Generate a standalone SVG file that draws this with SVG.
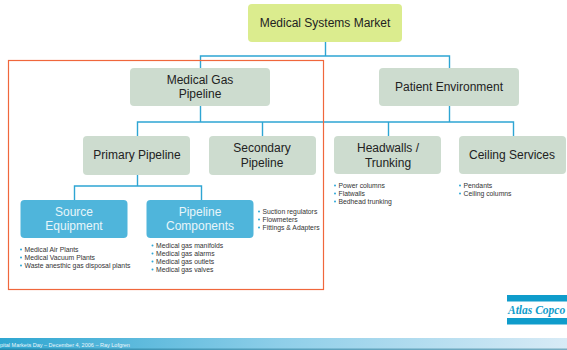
<svg xmlns="http://www.w3.org/2000/svg" width="567" height="350" viewBox="0 0 567 350">
<style>
text{font-family:"Liberation Sans",Arial,sans-serif}
.g{fill:#cddccf}
.l{fill:#dbec8e}
.b{fill:#4fb5db}
.t{font-size:12px;fill:#222;text-anchor:middle}
.w{font-size:12px;fill:#e8f5fa;text-anchor:middle}
.s{font-size:6.8px;fill:#333}
.d{fill:#2fa8d8}
.c{fill:none;stroke:#2ea5d3;stroke-width:1.4}
</style>
<defs>
<linearGradient id="bar" x1="0" x2="1" y1="0" y2="0"><stop offset="0" stop-color="#2ea6d1"/><stop offset="0.5" stop-color="#8fcfe9"/><stop offset="1" stop-color="#d8ebf6"/></linearGradient>
</defs>
<rect width="567" height="350" fill="#fff"/>
<g id="connectors">
<path class="c" d="M325.500 42V56M200.500 68V56H449.500V68"/>
<path class="c" d="M200.500 106V122M137.500 136V122H513.500V136M262.500 122V136M388.500 122V136M449.500 106V122"/>
<path class="c" d="M137.500 175V186M74.500 200V186H201.500V200"/>
</g>
<rect id="frame" x="8.500" y="60.500" width="315" height="229" fill="none" stroke="#f0673c" stroke-width="1.200"/>
<g id="market"><rect class="l" x="248" y="4" width="154" height="38" rx="4"/><text class="t" x="325" y="27">Medical Systems Market</text></g>
<g id="gas"><rect class="g" x="130" y="68" width="140" height="38" rx="4"/><text class="t" x="200" y="84">Medical Gas</text><text class="t" x="200" y="98">Pipeline</text></g>
<g id="patient"><rect class="g" x="379" y="68" width="140" height="38" rx="4"/><text class="t" x="449" y="91">Patient Environment</text></g>
<g id="primary"><rect class="g" x="83" y="136" width="107" height="39" rx="4"/><text class="t" x="137" y="159">Primary Pipeline</text></g>
<g id="secondary"><rect class="g" x="209" y="136" width="107" height="39" rx="4"/><text class="t" x="262" y="152">Secondary</text><text class="t" x="262" y="167">Pipeline</text></g>
<g id="headwalls"><rect class="g" x="334" y="136" width="107" height="38" rx="4"/><text class="t" x="388" y="152">Headwalls /</text><text class="t" x="388" y="167">Trunking</text></g>
<g id="ceiling"><rect class="g" x="459" y="136" width="107" height="38" rx="4"/><text class="t" x="512" y="159">Ceiling Services</text></g>
<g id="source"><rect class="b" x="20.500" y="200" width="107" height="38" rx="4"/><text class="w" x="74" y="216">Source</text><text class="w" x="74" y="230">Equipment</text></g>
<g id="components"><rect class="b" x="146.500" y="200" width="107" height="38" rx="4"/><text class="w" x="200" y="216">Pipeline</text><text class="w" x="200" y="230">Components</text></g>
<g id="source-list">
<circle class="d" cx="21" cy="249.500" r="1"/><text class="s" x="24.500" y="252">Medical Air Plants</text>
<circle class="d" cx="21" cy="257.500" r="1"/><text class="s" x="24.500" y="260">Medical Vacuum Plants</text>
<circle class="d" cx="21" cy="265.500" r="1"/><text class="s" x="24.500" y="268">Waste anesthic gas disposal plants</text>
</g>
<g id="components-list">
<circle class="d" cx="152.500" cy="245.500" r="1"/><text class="s" x="156" y="248">Medical gas manifolds</text>
<circle class="d" cx="152.500" cy="253.500" r="1"/><text class="s" x="156" y="256">Medical gas alarms</text>
<circle class="d" cx="152.500" cy="261.500" r="1"/><text class="s" x="156" y="264">Medical gas outlets</text>
<circle class="d" cx="152.500" cy="269.500" r="1"/><text class="s" x="156" y="272">Medical gas valves</text>
</g>
<g id="secondary-list">
<circle class="d" cx="259" cy="211.500" r="1"/><text class="s" x="262.500" y="214">Suction regulators</text>
<circle class="d" cx="259" cy="219.500" r="1"/><text class="s" x="262.500" y="222">Flowmeters</text>
<circle class="d" cx="259" cy="227.500" r="1"/><text class="s" x="262.500" y="230">Fittings &amp; Adapters</text>
</g>
<g id="headwalls-list">
<circle class="d" cx="335" cy="185.500" r="1"/><text class="s" x="338.500" y="188">Power columns</text>
<circle class="d" cx="335" cy="193.500" r="1"/><text class="s" x="338.500" y="196">Flatwalls</text>
<circle class="d" cx="335" cy="201.500" r="1"/><text class="s" x="338.500" y="204">Bedhead trunking</text>
</g>
<g id="ceiling-list">
<circle class="d" cx="460" cy="185.500" r="1"/><text class="s" x="463.500" y="188">Pendants</text>
<circle class="d" cx="460" cy="193.500" r="1"/><text class="s" x="463.500" y="196">Ceiling columns</text>
</g>
<g id="logo">
<rect x="507" y="295" width="60" height="6.500" fill="#0f9ccb"/>
<rect x="507" y="318" width="60" height="6.500" fill="#0f9ccb"/>
<text x="508" y="314" font-size="11.500" font-style="italic" font-weight="bold" fill="#0f9ccb" style="font-family:'Liberation Serif',serif">Atlas Copco</text>
</g>
<g id="footer">
<rect x="0" y="338" width="567" height="12" fill="url(#bar)"/>
<rect x="0" y="348.500" width="567" height="1.500" fill="#1d6f8e" opacity="0.500"/>
<text x="0" y="347" font-size="5.500" fill="#eaf6fb">pital Markets Day – December 4, 2006 – Ray Lofgren</text>
</g>
</svg>
